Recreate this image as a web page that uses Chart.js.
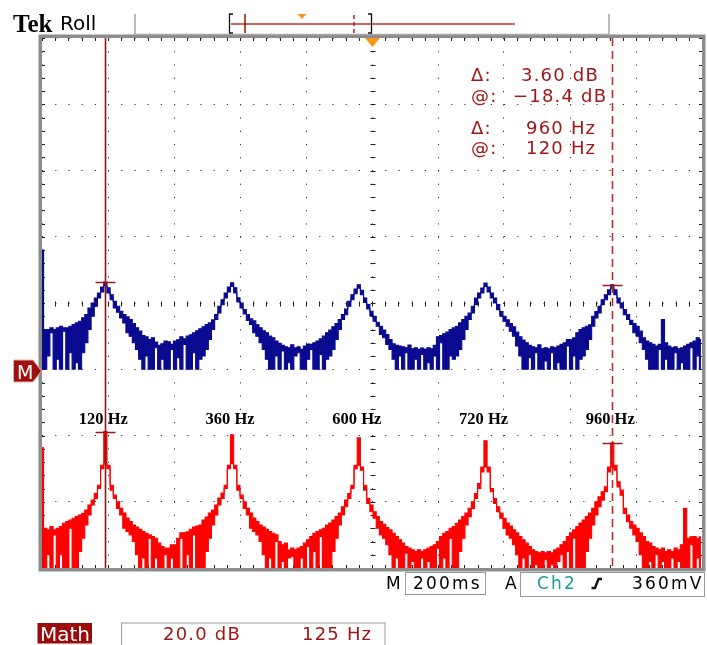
<!DOCTYPE html>
<html>
<head>
<meta charset="utf-8">
<title>Tek Roll - Math FFT</title>
<script src="https://cdn.jsdelivr.net/npm/chart.js@4.4.1/dist/chart.umd.min.js"></script>
<style>
  html, body { margin: 0; padding: 0; background: #fff; }
  #wrap { position: relative; width: 707px; height: 645px; overflow: hidden; }
  #scope { position: absolute; left: 0; top: 0; }
  #chrome { position: absolute; left: 0; top: 0; pointer-events: none; }
  #chrome text { font-family: "DejaVu Sans", sans-serif; }
</style>
</head>
<body>
<div id="wrap">
  <canvas id="scope" width="707" height="645"></canvas>
  <svg id="chrome" width="707" height="645" viewBox="0 0 707 645">
    <!-- encabezado -->
    <text x="13" y="32" font-size="25" style="font-family:'Liberation Serif',serif;font-weight:bold">Tek</text>
    <text x="60" y="30" font-size="20">Roll</text>
    <path d="M135 14 V34.5 H609 V14" fill="none" stroke="#a8a8a8" stroke-width="1.5"/>
    <line x1="231" y1="24" x2="515" y2="24" stroke="#b83232" stroke-width="1.6"/>
    <path d="M233 14 H229.5 V33 H233" fill="none" stroke="#111" stroke-width="1.3"/>
    <path d="M368 14 H371.5 V33 H368" fill="none" stroke="#111" stroke-width="1.3"/>
    <line x1="245" y1="14" x2="245" y2="33" stroke="#a01010" stroke-width="1.5"/>
    <line x1="354" y1="15" x2="354" y2="33" stroke="#b82020" stroke-width="1.5" stroke-dasharray="4 3"/>
    <polygon points="297.5,14 306.5,14 302,19" fill="#f7941d"/>
    <polygon points="365,38 380,38 372.5,47" fill="#f7941d"/>

    <!-- lecturas de cursores -->
    <g fill="#a01818" font-size="18" letter-spacing="1.2">
      <text x="471" y="81">Δ:</text><text x="521" y="81">3.60 dB</text>
      <text x="471" y="101.5">@:</text><text x="513" y="101.5">−18.4 dB</text>
      <text x="471" y="133.5">Δ:</text><text x="526" y="133.5">960 Hz</text>
      <text x="471" y="154">@:</text><text x="526" y="154">120 Hz</text>
    </g>

    <!-- marcador de referencia M -->
    <polygon points="13.5,360 33,360 41.5,371 33,382 13.5,382" fill="#a01010" stroke="#e8b0b0" stroke-width="1"/>
    <text x="17" y="379" font-size="19" fill="#fff">M</text>

    <!-- barra de estado -->
    <g font-size="17" letter-spacing="2.2">
      <text x="386" y="588.5">M</text>
      <rect x="405.5" y="572.5" width="80" height="22" fill="none" stroke="#999"/>
      <text x="413" y="588.5">200ms</text>
      <text x="505" y="588.5">A</text>
      <rect x="520.5" y="572.5" width="184" height="24" fill="none" stroke="#999"/>
      <text x="537" y="588.5" fill="#1c9c9c">Ch2</text>
      <path d="M591.5 588 H595 L598.5 579 H602" fill="none" stroke="#111" stroke-width="2.4"/>
      <text x="632" y="588.5">360mV</text>
    </g>

    <!-- canal Math -->
    <rect x="37.5" y="623" width="54.5" height="20.5" fill="#9c0a0a"/>
    <text x="40" y="640.5" font-size="20" fill="#fff">Math</text>
    <rect x="121.5" y="623" width="263.5" height="24" fill="none" stroke="#999"/>
    <g fill="#a01818" font-size="18" letter-spacing="1.2">
      <text x="163" y="639.5">20.0 dB</text>
      <text x="302" y="639.5">125 Hz</text>
    </g>
  </svg>
</div>
<script>
// Espectro leído de la pantalla: una columna cada 6 Hz, con su máximo y su
// mínimo en dB (20 dB/div), como lo dibuja el osciloscopio
const freqStep = 6;

// Traza azul: máximo y mínimo de cada columna
const azulMax = [
  16, -8, -8, -7.5, -8, -7.5, -7, -7.5, -7.5, -7,
  -6.5, -6, -5.5, -4.5, -3.5, -1.5, 0, 1.5, 3, 4.8,
  6.3, 4.6, 2.5, 0.5, -1, -2.5, -3.5, -4.2, -5, -6.2,
  -7.5, -8.5, -9.8, -10.2, -11, -10.5, -11.8, -12.8, -12.3, -11.5,
  -11.7, -12.5, -11.5, -11.1, -10.2, -10.8, -10, -9.6, -9, -8.4,
  -7.8, -7.2, -6.5, -6, -5.1, -3.5, -1, 1, 3, 4.8,
  6.1, 4.6, 1.6, 0, -2, -3.5, -4.8, -5.4, -6.6, -7.5,
  -8.4, -9, -10, -10.5, -11.5, -12.2, -12.8, -13.2, -13.5, -12.6,
  -13.5, -13.2, -14, -13, -12.4, -12.5, -12, -11.5, -10.8, -10,
  -9, -8.2, -7.2, -6.2, -5, -3.5, -1.8, 0.5, 2.5, 4.2,
  5.5, 3.8, 1.5, -0.5, -2.5, -4, -5.8, -7, -8.2, -9.5,
  -11, -12.3, -12.8, -13, -13.2, -13.5, -12.7, -13.8, -13.5, -14,
  -13.6, -14, -13.5, -13.8, -12.8, -10.2, -9.8, -9.3, -8.8, -8,
  -7.5, -7, -6, -5, -4, -3, -1, 1.5, 3, 4.5,
  6, 4.8, 3, 1.5, -0.5, -2.6, -4, -5.1, -6.2, -7.2,
  -8.8, -10.2, -11.2, -12, -12.8, -13.2, -13.5, -12.6, -13.8, -13.5,
  -13.8, -13.2, -13.5, -13, -12.5, -12, -11, -11, -10.5, -9,
  -8, -7.5, -7, -6.6, -4, -2.6, -1, 1, 2.5, 4,
  5.5, 4, 1.5, 0, -2, -3.5, -5.2, -6.2, -7, -8.5,
  -10.5, -11.5, -12, -12.5, -13, -12.5, -5, -12, -13, -13.5,
  -13.2, -13.8, -13.5, -13, -12.5, -12, -11.5, -10.5, -11
];
const azulMin = [
  -20, -20, -16, -9, -20, -17, -20, -8.5, -20, -15,
  -20, -18, -20, -15, -12, -8, -4, -1, 1.5, 3.3,
  5.2, 3, 1, -1.5, -2.8, -4.5, -6, -9, -10, -12,
  -14, -17, -20, -16, -20, -20, -13.5, -20, -17, -20,
  -20, -14, -20, -16.5, -20, -12.5, -20, -20, -15, -20,
  -17, -16, -14, -11, -8, -5, -3, -0.5, 1.5, 3.3,
  5, 3, 0.3, -1.5, -3.3, -5.3, -6.5, -9, -10, -12,
  -14, -17, -20, -20, -16, -20, -14.5, -20, -18, -20,
  -16, -15, -20, -20, -17, -14, -20, -20, -15.5, -20,
  -17, -16, -14, -11, -8, -5, -3.5, -1, 1, 2.8,
  4.5, 2.5, 0.2, -1.8, -3.8, -5.5, -7, -9.5, -10.5, -12.5,
  -14, -17, -20, -16, -20, -15, -20, -20, -17, -20,
  -15.5, -20, -18, -20, -16, -20, -12, -20, -20, -16,
  -17, -16, -14, -11, -8, -5, -3, -0.5, 1.5, 3,
  5, 3.3, 1.5, 0, -2, -4, -5.5, -7, -8.5, -10,
  -13, -16, -20, -20, -16.5, -20, -15, -20, -20, -17.5,
  -20, -15, -20, -18, -20, -20, -13, -20, -16, -20,
  -17, -16, -14, -11, -7, -4.5, -3, -0.5, 1, 2.5,
  4.5, 2.5, 0, -1.5, -3.5, -5, -6.5, -9, -10, -12,
  -14, -17, -20, -20, -20, -14, -20, -17, -20, -20,
  -15, -20, -18, -20, -20, -13.5, -20, -16, -20
];

// Traza roja (Math, FFT): máximo y mínimo de cada columna
const rojaMax = [
  -43.7, -68, -68.5, -67.5, -68.5, -68, -67.5, -66.5, -66, -65.5,
  -65, -64.5, -64, -63.5, -62.5, -61, -59.5, -57.5, -55, -49,
  -38.8, -49, -55, -58, -60, -62, -63.4, -64.9, -66, -67,
  -67.6, -68.3, -69, -69.5, -70, -70.5, -71, -72.5, -73.5, -74,
  -74, -73, -73, -71, -69.4, -69.3, -69.1, -68.3, -67.6, -67.3,
  -67, -65.5, -64.6, -63.4, -62.5, -61, -58.9, -57.4, -55, -49,
  -39.8, -49, -55, -58, -60, -62, -63.4, -64.9, -66, -67,
  -67.6, -68.3, -69, -69.5, -70, -72, -73, -72.5, -74.6, -74,
  -74.5, -74, -73.5, -72.5, -71.5, -70.5, -69.5, -69, -68.5, -68,
  -67, -66.4, -65.5, -64.5, -63.4, -61.5, -59.5, -57.5, -55, -49,
  -40.7, -49.5, -55, -59, -61, -63, -64.5, -66, -66.8, -67.8,
  -68.5, -69.5, -70.5, -71.5, -72.5, -73.5, -74, -74.5, -75, -74.5,
  -75, -74.5, -74, -73.5, -73, -72, -70.5, -69.5, -69, -68,
  -67.5, -66.5, -65.5, -64.5, -63.4, -62, -60, -57.5, -54.5, -49.5,
  -41.6, -49.5, -56, -59, -61.5, -63.4, -65, -66.4, -67.3, -68.5,
  -69.4, -70.5, -71.5, -72.5, -73.5, -74.5, -75, -75.4, -75, -75.4,
  -75, -75.4, -74.5, -74, -73, -72, -70.5, -69.4, -68.5, -67.5,
  -66.4, -65.5, -64.5, -63.4, -62, -60, -58.5, -57, -55.5, -49.5,
  -42.3, -49, -54, -56.5, -62, -64, -66, -67, -68, -69.4,
  -70.5, -72, -72.5, -73.5, -74, -74.5, -74, -75, -74.5, -75,
  -74, -74.5, -73, -62, -71, -70.6, -70.5, -71, -70.6
];
const rojaMin = [
  -80, -80, -76, -80, -70, -80, -76, -80, -80, -68,
  -80, -80, -75, -71, -67, -64, -61, -59, -56, -50,
  -48.5, -50, -56.5, -59, -62, -64, -68, -69, -70, -72,
  -76, -80, -77, -80, -71, -80, -77, -80, -80, -76,
  -80, -77, -80, -80, -71, -80, -76, -80, -70, -80,
  -80, -80, -75, -71, -67, -64, -61, -59, -56, -50,
  -48.5, -50, -56.5, -59, -62, -64, -68, -69, -70, -72,
  -76, -80, -77, -80, -72, -80, -78, -80, -77, -76.5,
  -80, -80, -77, -80, -73.5, -80, -75, -80, -70.5, -80,
  -80, -80, -75, -71, -67, -64, -61.5, -59, -56, -50,
  -49, -50.5, -56.5, -60.5, -63, -65, -68, -70, -71, -73,
  -76, -80, -77, -80, -80, -75.5, -80, -78, -80, -80,
  -77, -80, -78, -80, -80, -74, -80, -77, -80, -71,
  -80, -80, -75, -71, -67, -64.5, -62, -59, -56, -51,
  -49.5, -51, -57, -60.5, -63, -65, -68, -70, -71, -73,
  -76, -80, -77, -80, -76, -80, -79, -80, -80, -77.5,
  -80, -79, -80, -78, -76, -80, -75, -80, -71, -80,
  -80, -80, -75, -71, -67, -64, -61.5, -59.5, -57, -51,
  -49.5, -50.5, -55.5, -58, -63.5, -66, -68, -70, -72, -76,
  -80, -80, -78, -80, -76, -80, -78, -80, -80, -77,
  -80, -78, -80, -80, -80, -73, -80, -77, -80
];

// Picos marcados y sus etiquetas
const picosHz = [120, 360, 600, 840, 1080];
const etiquetasPicos = ['120 Hz', '360 Hz', '600 Hz', '720 Hz', '960 Hz'];
const nivelEtiquetas = -36.5;

// Cursores verticales (Hz)
const cursoresHz = [120, 1080];

// Retícula: 10 div x 125 Hz, 8 div x 20 dB
const xMin = 0, xMax = 1250, xPaso = 125;
const yMin = -80, yMax = 80, yPaso = 20;

const azul = '#0a0a90';
const rojo = '#ff0000';

const toPoints = serie => serie.map((v, i) => ({ x: i * freqStep, y: v }));

// Marcas menores, cursores, etiquetas y marco de la retícula
const scopeOverlay = {
  id: 'scopeOverlay',
  beforeDatasetsDraw(chart) {
    const { ctx, chartArea: a, scales: { x, y } } = chart;
    const xMid = Math.round(x.getPixelForValue((xMin + xMax) / 2)) + 0.5;
    const yMid = Math.round(y.getPixelForValue((yMin + yMax) / 2)) + 0.5;
    ctx.save();
    ctx.strokeStyle = '#222';
    ctx.lineWidth = 1;
    ctx.beginPath();
    for (let f = xMin; f <= xMax; f += xPaso / 5) {
      const px = Math.round(x.getPixelForValue(f)) + 0.5;
      ctx.moveTo(px, a.top); ctx.lineTo(px, a.top + 3);
      ctx.moveTo(px, a.bottom - 3); ctx.lineTo(px, a.bottom);
      ctx.moveTo(px, yMid - 2); ctx.lineTo(px, yMid + 3);
    }
    for (let v = yMin; v <= yMax; v += yPaso / 5) {
      const py = Math.round(y.getPixelForValue(v)) + 0.5;
      ctx.moveTo(a.left, py); ctx.lineTo(a.left + 3, py);
      ctx.moveTo(a.right - 3, py); ctx.lineTo(a.right, py);
      ctx.moveTo(xMid - 2, py); ctx.lineTo(xMid + 3, py);
    }
    ctx.stroke();
    ctx.restore();
  },
  afterDatasetsDraw(chart) {
    const { ctx, chartArea: a, scales: { x, y } } = chart;
    ctx.save();

    cursoresHz.forEach((f, n) => {
      const px = Math.round(x.getPixelForValue(f)) + 0.5;
      ctx.strokeStyle = n === 0 ? '#8e1414' : '#c22a2a';
      ctx.lineWidth = 1.6;
      ctx.setLineDash(n === 0 ? [] : [8, 5]);
      ctx.beginPath();
      ctx.moveTo(px, a.top);
      ctx.lineTo(px, a.bottom);
      ctx.stroke();
      ctx.setLineDash([]);
      const i = Math.round(f / freqStep);
      ctx.strokeStyle = '#a01818';
      ctx.lineWidth = 1.5;
      [azulMax[i], rojaMax[i]].forEach(v => {
        const py = Math.round(y.getPixelForValue(v)) + 0.5;
        ctx.beginPath();
        ctx.moveTo(px - 10, py);
        ctx.lineTo(px + 10, py);
        ctx.stroke();
      });
    });

    ctx.font = 'bold 16.5px "Liberation Serif", serif';
    ctx.fillStyle = '#000';
    ctx.textAlign = 'center';
    ctx.textBaseline = 'alphabetic';
    picosHz.forEach((f, n) => {
      ctx.fillText(etiquetasPicos[n], x.getPixelForValue(f) - 2, y.getPixelForValue(nivelEtiquetas));
    });

    ctx.strokeStyle = '#8c8c8c';
    ctx.lineWidth = 3.5;
    ctx.strokeRect(a.left - 1.75, a.top - 1.75, a.width + 3.5, a.height + 3.5);
    ctx.restore();
  }
};

const traza = (label, serie, color, fill) => ({
  label,
  data: toPoints(serie),
  borderColor: color,
  backgroundColor: color,
  borderWidth: 1.1,
  stepped: 'middle',
  pointRadius: 0,
  fill
});

const scopeCtx = document.getElementById('scope').getContext('2d');
const scopeChart = new Chart(scopeCtx, {
  type: 'line',
  data: {
    datasets: [
      traza('Ch2 máx', azulMax, azul, '+1'),
      traza('Ch2 mín', azulMin, azul, false),
      traza('Math máx', rojaMax, rojo, '+1'),
      traza('Math mín', rojaMin, rojo, false)
    ]
  },
  options: {
    responsive: false,
    animation: false,
    events: [],
    layout: { padding: { left: 42, right: 5, top: 38, bottom: 77 } },
    plugins: {
      legend: { display: false },
      tooltip: { enabled: false }
    },
    scales: {
      x: {
        type: 'linear',
        min: xMin,
        max: xMax,
        ticks: { display: false, stepSize: xPaso },
        grid: { color: '#333', lineWidth: 1, drawTicks: false },
        border: { display: false, dash: [1.2, 12.04] }
      },
      y: {
        min: yMin,
        max: yMax,
        ticks: { display: false, stepSize: yPaso },
        grid: { color: '#333', lineWidth: 1, drawTicks: false },
        border: { display: false, dash: [1.2, 12] }
      }
    }
  },
  plugins: [scopeOverlay]
});
</script>
</body>
</html>
